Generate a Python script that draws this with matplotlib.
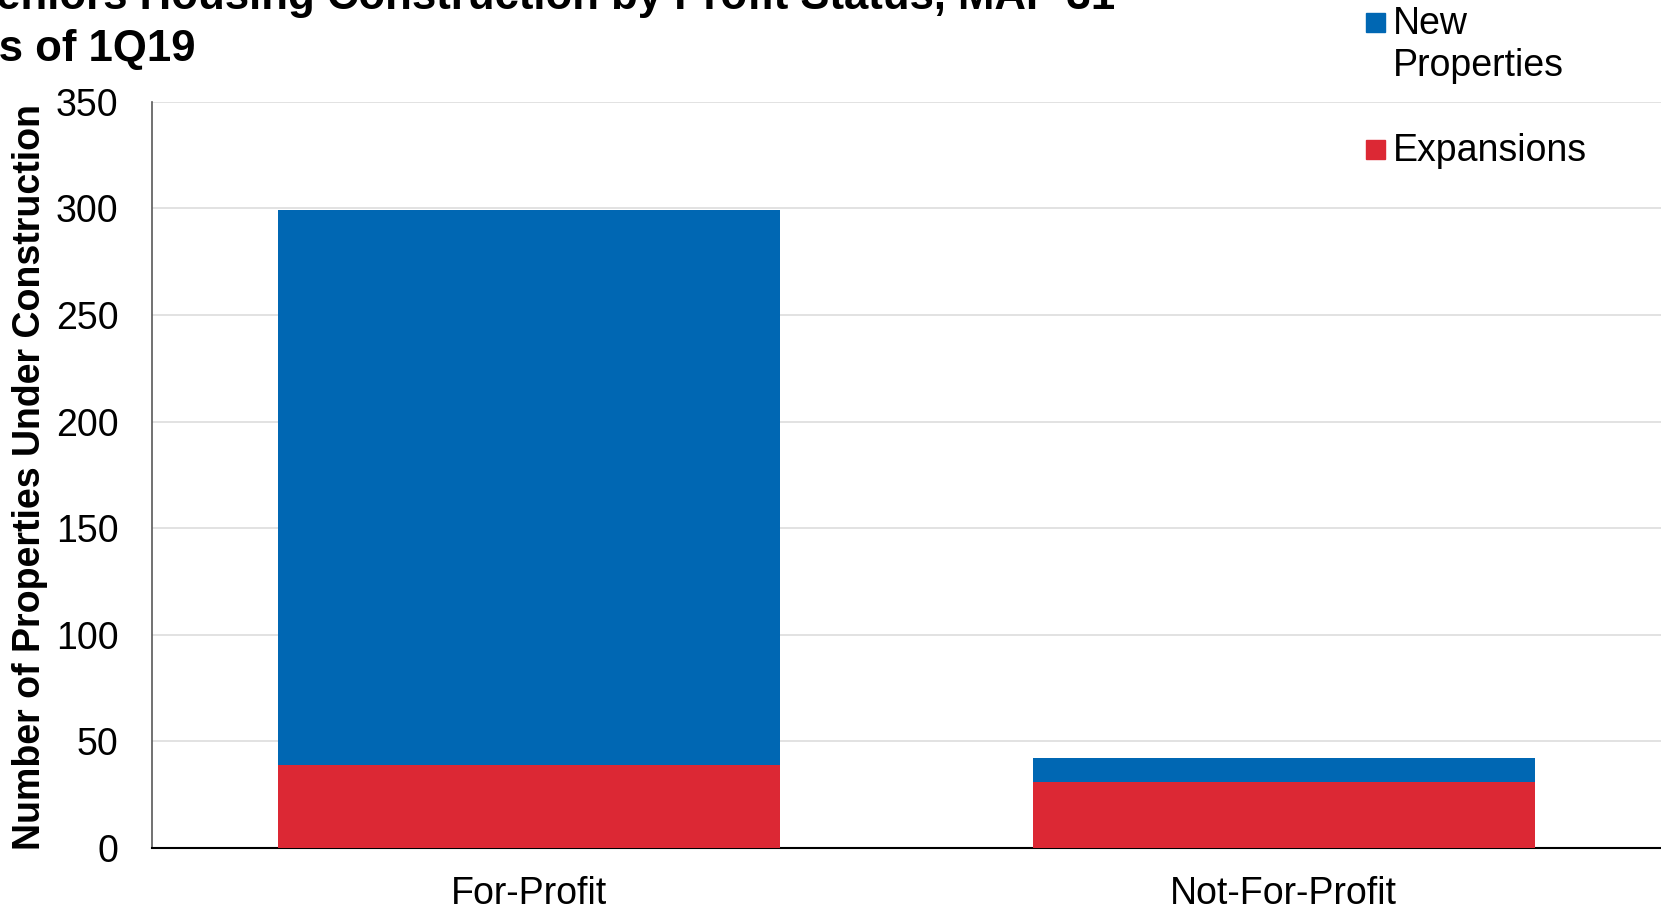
import matplotlib.pyplot as plt
from matplotlib.patches import Rectangle

plt.rcParams['font.family'] = ['Liberation Sans', 'DejaVu Sans']

# Properties under construction, by profit status
categories = ['For-Profit', 'Not-For-Profit']
expansions = [39, 31]
new_properties = [260, 11]

series_names = ['New\nProperties', 'Expansions']
series_colors = ['#0067B3', '#DC2834']

W, H = 1661, 909
fig = plt.figure(figsize=(W / 100, H / 100), dpi=100)
ax = fig.add_axes([152 / W, 1 - 848 / H, 1 - 152 / W, (848 - 101.7) / H])

x = range(len(categories))
ax.bar(x, expansions, width=0.665, color=series_colors[1], zorder=3)
ax.bar(x, new_properties, width=0.665, bottom=expansions,
       color=series_colors[0], zorder=3)

ax.set_xlim(-0.5, 1.5)
ax.set_ylim(0, 350)
ax.set_yticks(range(0, 351, 50))
ax.set_xticks(list(x))
ax.set_xticklabels(categories)
ax.tick_params(axis='y', length=0, pad=24, labelsize=27)
ax.tick_params(axis='x', length=0, pad=20, labelsize=27)
ax.grid(axis='y', color='#DDDDDD', linewidth=1.2, zorder=0)

for side in ['top', 'right']:
    ax.spines[side].set_visible(False)
ax.spines['left'].set_color('#595959')
ax.spines['left'].set_linewidth(1.2)
ax.spines['bottom'].set_color('black')
ax.spines['bottom'].set_linewidth(1.5)

ax.set_ylabel('Number of Properties Under Construction', fontsize=27,
              fontweight='bold')
ax.yaxis.set_label_coords(48 / W, 1 - 477 / H, transform=fig.transFigure)

# Title sits partly off the canvas
fig.text(-33 / W, 1 - 9 / H, 'Seniors Housing Construction by Profit Status, MAP 31',
         fontsize=31.5, fontweight='bold', va='baseline', ha='left')
fig.text(-33 / W, 1 - 61 / H, 'As of 1Q19',
         fontsize=31.5, fontweight='bold', va='baseline', ha='left')

# Legend drawn by hand so the swatch lines up with the first line of text
legend_tops = [13, 140]
for name, color, top in zip(series_names, series_colors, legend_tops):
    fig.add_artist(Rectangle((1366 / W, 1 - (top + 19) / H), 19 / W, 19 / H,
                             transform=fig.transFigure, color=color))
    fig.text(1393 / W, 1 - (top - 7) / H, name, fontsize=27,
             va='top', ha='left', linespacing=1.2)

fig.savefig('out.png', dpi=100)
